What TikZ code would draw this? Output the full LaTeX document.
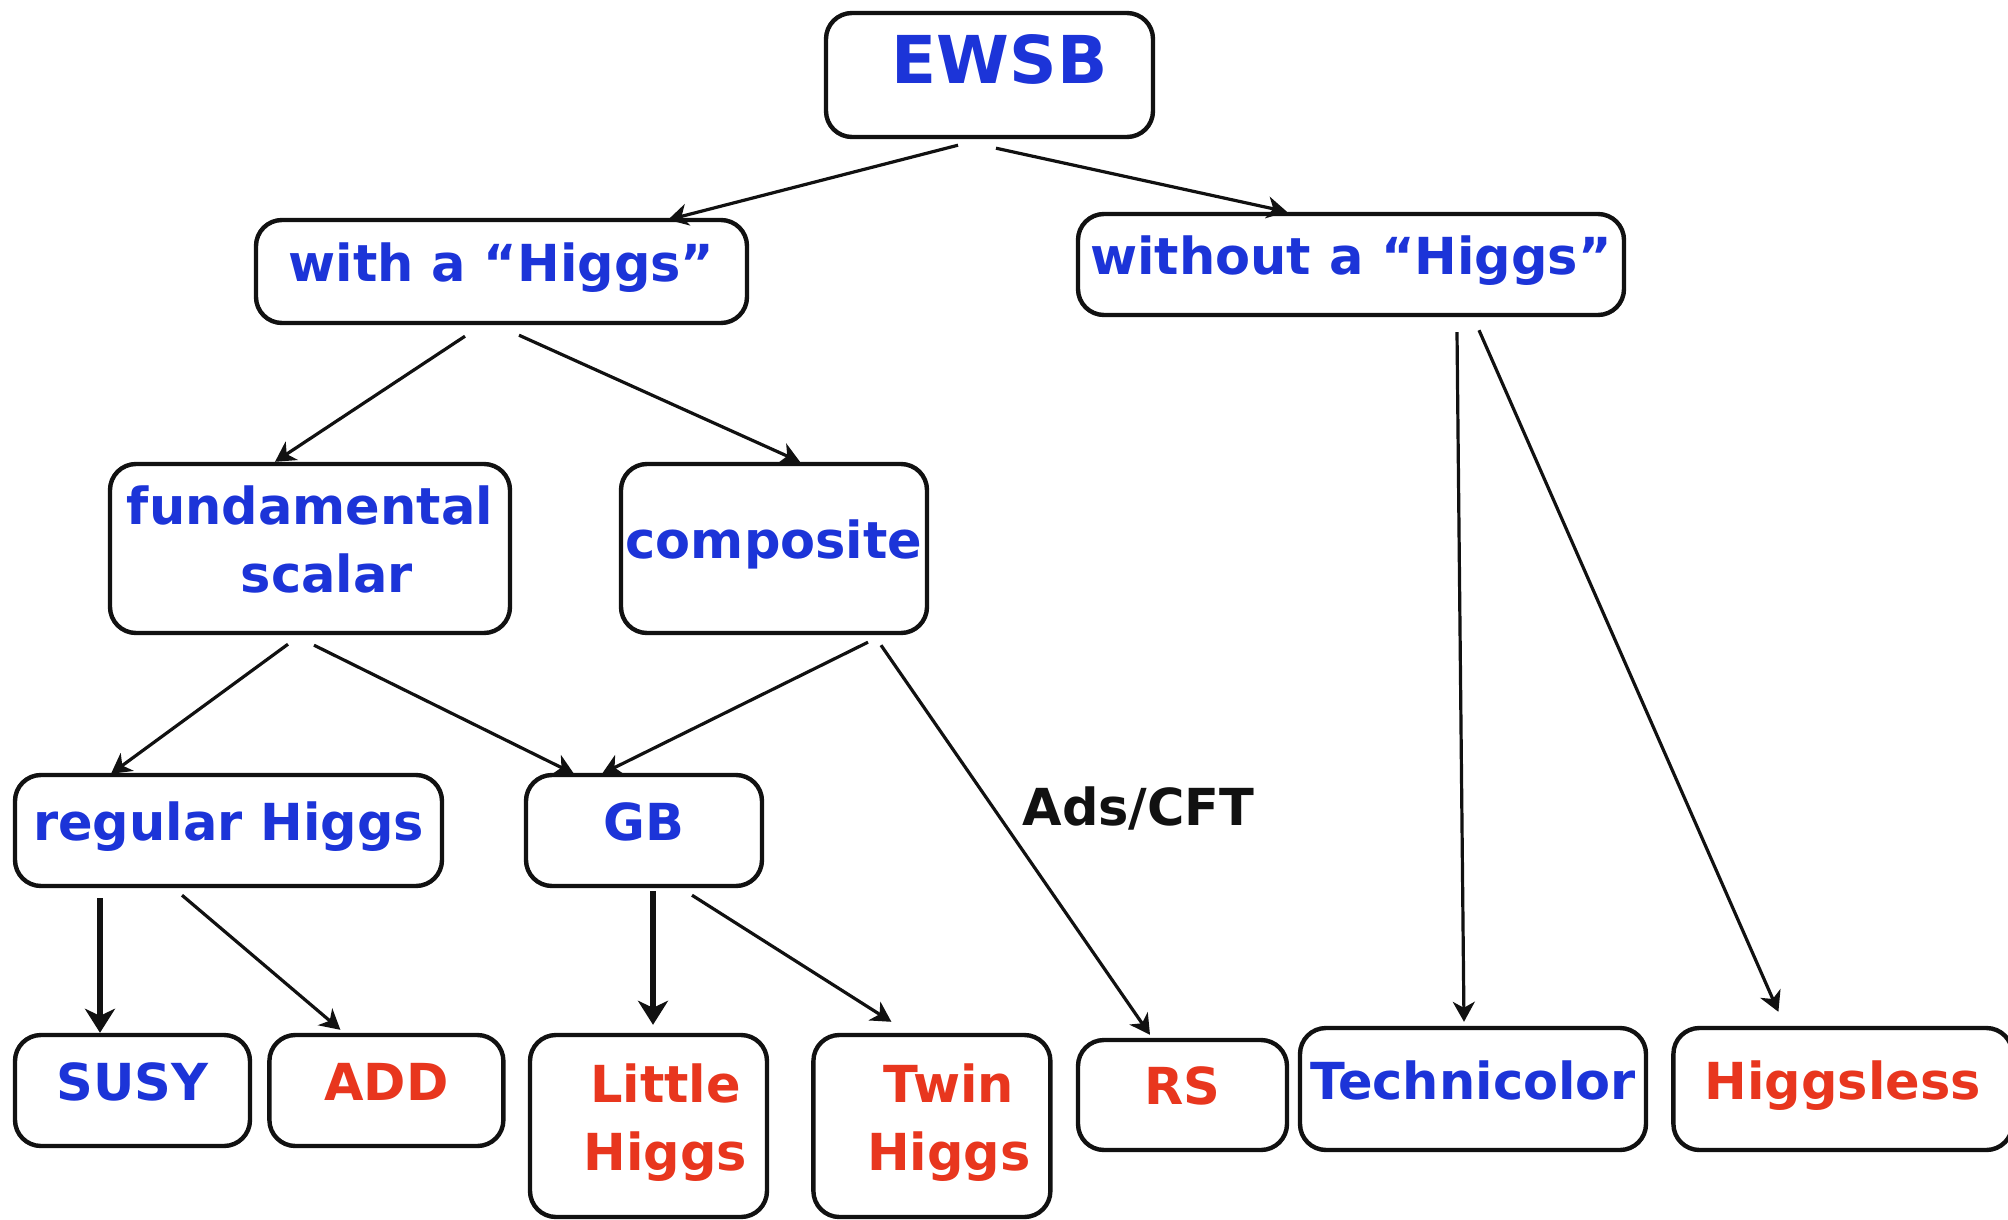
\documentclass[tikz,border=0pt]{standalone}
\usepackage{fontspec}
\setmainfont{DejaVu Sans}
\usepackage{tikz}
\usetikzlibrary{arrows.meta,calc,positioning}
\definecolor{EwsbBlue}{HTML}{1C34D8}
\definecolor{EwsbRed}{HTML}{E8361E}
\definecolor{EwsbInk}{HTML}{111111}
\newcommand{\dstrut}{\rule[-9pt]{0pt}{9pt}}
\newcommand{\indt}{\hspace*{17pt}}
\tikzset{
  >={Stealth[length=10pt,width=11pt,inset=3pt]},
  flow/.style={->,line width=1.6pt,draw=EwsbInk},
  boldflow/.style={-{Stealth[length=12pt,width=15pt,inset=3.5pt]},
    line width=2.8pt,draw=EwsbInk},
  box/.style={draw=EwsbInk,line width=2.2pt,fill=white,rounded corners=13pt,
    align=center,inner sep=0pt,font=\fontsize{25.5}{34}\selectfont\bfseries},
  bluebox/.style={box,text=EwsbBlue},
  redbox/.style={box,text=EwsbRed},
  single/.style={text depth=9pt},
  wh/.style 2 args={minimum width=#1*0.5pt,minimum height=#2*0.5pt},
  edgetext/.style={font=\fontsize{25.5}{32}\selectfont\bfseries,
    text=EwsbInk,inner sep=1.5pt}
}

\begin{document}
\begin{tikzpicture}[x=0.5pt,y=-0.5pt]
  \useasboundingbox (0,0) rectangle (2008,1220);
  % top levels
  \node[bluebox,wh={327}{124},font=\fontsize{33}{40}\selectfont\bfseries,
    text depth=16pt] (ewsb) at (989.5,75) {\hspace*{10pt}EWSB};
  \node[bluebox,single,wh={491}{103}] (with) at (501.5,271.5) {with a “Higgs”};
  \node[bluebox,single,wh={546}{101}] (without) at (1351,264.5) {without a “Higgs”};
  \node[bluebox,wh={400}{169}] (fund) at (310,548.5) {fundamental\\\indt scalar\dstrut};
  \node[bluebox,single,wh={306}{169}] (comp) at (774,548.5) {composite};
  \node[bluebox,single,wh={427}{111}] (reg) at (228.5,830.5) {regular Higgs};
  \node[bluebox,single,wh={236}{111}] (gb) at (644,830.5) {GB};
  % models
  \node[bluebox,single,wh={235}{111}] (susy) at (132.5,1090.5) {SUSY};
  \node[redbox,single,wh={234}{111},right=7.5pt of susy] (add) {ADD};
  \node[redbox,wh={237}{182}] (little) at (648.5,1126) {\indt Little\\\indt Higgs\dstrut};
  \node[redbox,wh={237}{182},right=21pt of little] (twin) {\indt Twin\\\indt Higgs\dstrut};
  \node[redbox,single,wh={209}{110}] (rs) at (1182.5,1095) {RS};
  \node[bluebox,single,wh={346}{122}] (techni) at (1473,1089) {Technicolor};
  \node[redbox,single,wh={339}{122},right=11.5pt of techni] (higgsless) {Higgsless};

  \draw[flow] ($(ewsb.south)+(-31.5,6)$) -- ($(with.north)+(166.5,2)$);
  \draw[flow] ($(ewsb.south)+(6.5,9)$) -- ($(without.north)+(-64,0)$);
  \draw[flow] ($(with.south)+(-36.5,11)$) -- ($(fund.north)+(-35,0)$);
  \draw[flow] ($(with.south)+(17.5,10)$) -- ($(comp.north)+(26,0)$);
  \draw[flow] ($(fund.south)+(-22,9)$) -- ($(reg.north)+(-117.5,1)$);
  \draw[flow] ($(fund.south)+(4,10)$) -- ($(gb.north)+(-70,1)$);
  \draw[flow] ($(comp.south)+(94,7)$) -- ($(gb.north)+(-42,1)$);
  \draw[flow] ($(comp.south)+(107,10)$) --
    node[edgetext,pos=0.42,right=12pt] (adscft) {Ads/CFT}
    ($(rs.north)+(-32.5,-3)$);
  \draw[flow] ($(without.south)+(106,15)$) -- ($(techni.north)+(-9,-4)$);
  \draw[flow] ($(without.south)+(128,13)$) -- ($(higgsless.north)+(-64.5,-14)$);
  \draw[boldflow] ($(reg.south)+(-128.5,10)$) -- ($(susy.north)+(-32.5,0)$);
  \draw[flow] ($(reg.south)+(-46.5,7)$) -- ($(add.north)+(-46,-3)$);
  \draw[boldflow] ($(gb.south)+(9,3)$) -- ($(little.north)+(4.5,-8)$);
  \draw[flow] ($(gb.south)+(48,7)$) -- ($(twin.north)+(-40.5,-11)$);
\end{tikzpicture}
\end{document}
